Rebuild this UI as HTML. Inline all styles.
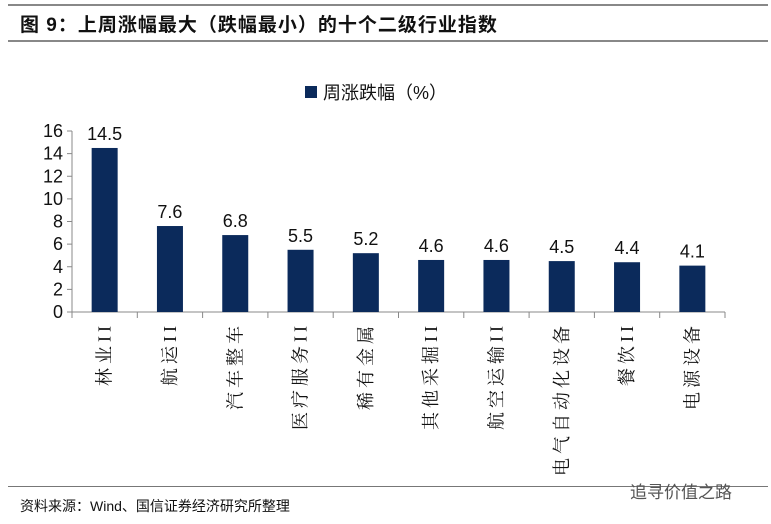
<!DOCTYPE html>
<html><head><meta charset="utf-8"><style>
body{margin:0;background:#fff;width:771px;height:524px;overflow:hidden;position:relative;font-family:"Liberation Sans","Noto Sans CJK SC",sans-serif}
.abs{position:absolute}
</style></head><body>
<div class="abs" style="left:8px;top:4px;width:760px;height:2px;background:#888"></div>
<div class="abs" style="left:20px;top:10px;font-size:19px;font-weight:bold;color:#111;letter-spacing:1px;white-space:nowrap">图 9：上周涨幅最大（跌幅最小）的十个二级行业指数</div>
<div class="abs" style="left:8px;top:40px;width:760px;height:2px;background:#888"></div>
<div class="abs" style="left:305px;top:79px;font-size:18px;color:#111;display:flex;align-items:center">
<span style="display:inline-block;width:12px;height:12px;background:#0b2a5b;margin-right:6px"></span><span>周涨跌幅（%）</span></div>
<svg class="abs" style="left:0;top:0" width="771" height="524" id="chart"></svg>
<div class="abs" style="left:8px;top:486px;width:760px;height:1px;background:#777"></div>
<div class="abs" style="left:20px;top:496px;font-size:14px;color:#111">资料来源：Wind、国信证券经济研究所整理</div>
<div class="abs" style="left:630px;top:478px;font-size:17px;color:#555">追寻价值之路</div>
<script>
const categories=["林业II","航运II","汽车整车","医疗服务II","稀有金属","其他采掘II","航空运输II","电气自动化设备","餐饮II","电源设备"];
const values=[14.5,7.6,6.8,5.5,5.2,4.6,4.6,4.5,4.4,4.1];
const labels=["14.5","7.6","6.8","5.5","5.2","4.6","4.6","4.5","4.4","4.1"];
const yTicks=[0,2,4,6,8,10,12,14,16];
const ns="http://www.w3.org/2000/svg";
const svg=document.getElementById('chart');
const x0=72,x1=725,yb=312,yt=131,ymax=16;
const y=v=>yb-(yb-yt)*v/ymax;
const bw=(x1-x0)/categories.length;
const xc=i=>x0+bw*(i+0.5);
function el(t,a){const e=document.createElementNS(ns,t);for(const k in a)e.setAttribute(k,a[k]);svg.appendChild(e);return e;}
let ax=el('line',{x1:x0,y1:yt,x2:x0,y2:yb,stroke:'#888','stroke-width':1});

let bx=el('line',{x1:x0,y1:yb,x2:x1,y2:yb,stroke:'#888','stroke-width':1});

yTicks.forEach(t=>{
 el('line',{x1:x0-5,y1:y(t),x2:x0,y2:y(t),stroke:'#888'});
 const tx=el('text',{x:x0-9,y:y(t)+6,'text-anchor':'end','font-size':18,fill:'#111','font-family':'Liberation Sans'});
 tx.textContent=t;
 
 
});
for(let i=0;i<=categories.length;i++){el('line',{x1:x0+bw*i,y1:yb,x2:x0+bw*i,y2:yb+6,stroke:'#888'});}
values.forEach((v,i)=>{
 const r=el('rect',{x:xc(i)-13,y:y(v),width:26,height:yb-y(v),fill:'#0b2a5b'});
 
 
 const t=el('text',{x:xc(i),y:y(v)-8,'text-anchor':'middle','font-size':18,fill:'#111','font-family':'Liberation Sans'});
 t.textContent=labels[i];
 
 
 const cx=xc(i)+6,cy=322;
 const l=el('text',{x:cx,y:cy,'text-anchor':'end','font-size':18,'letter-spacing':4,fill:'#111','font-family':'Liberation Serif, Noto Serif CJK SC, serif',transform:'rotate(-90 '+cx+' '+cy+')'});
 l.textContent=categories[i];
 
 
});
</script>
</body></html>
